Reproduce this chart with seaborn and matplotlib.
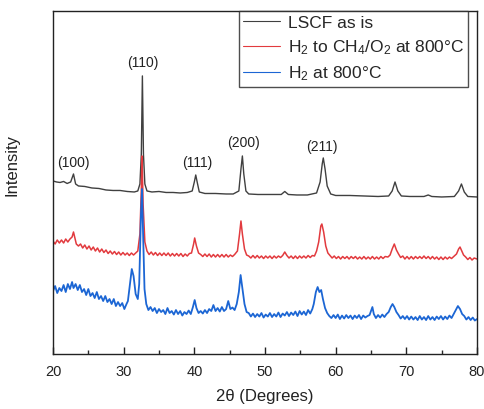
import matplotlib
matplotlib.use("Agg")
import matplotlib.pyplot as plt
import seaborn as sns
import pandas as pd

# XRD patterns of LSCF (2-theta in degrees, intensity in arbitrary units, already stacked)
two_theta_asis = [20.0, 20.5, 21.0, 21.5, 22.0, 22.5, 22.9, 23.2, 23.6, 24.5, 25.5, 26.5,
                  27.5, 28.5, 29.5, 30.5, 31.5, 32.0, 32.3, 32.5, 32.65, 32.8, 33.0, 33.3,
                  34.0, 35.0, 36.0, 37.0, 38.0, 39.0, 39.7, 40.0, 40.2, 40.4, 40.7, 41.5,
                  43.0, 44.5, 45.5, 46.3, 46.6, 46.8, 47.0, 47.3, 47.7, 49.0, 51.0, 52.3,
                  52.8, 53.3, 54.5, 56.0, 57.3, 57.8, 58.1, 58.25, 58.5, 58.8, 59.3, 60.0,
                  62.0, 64.0, 66.0, 67.5, 68.0, 68.4, 68.8, 69.3, 70.5, 72.5, 73.1, 73.6,
                  75.0, 76.8, 77.4, 77.8, 78.2, 78.7, 80.0]
intensity_asis = [173, 172, 171.5, 172.5, 170.5, 172, 180, 170, 168, 167.5, 166, 165.5,
                  164, 163.5, 163.5, 162.5, 162, 163, 170, 200, 278, 200, 170, 163,
                  162, 162.5, 161.5, 161.5, 161, 161.5, 163, 172, 179, 172, 162, 160.5,
                  160.5, 160, 160, 163, 185, 198, 180, 163, 160, 159.5, 159.5, 159.5,
                  162.5, 159.5, 159, 159, 161, 172, 190, 196, 185, 168, 160, 158.5,
                  158.5, 158, 157.5, 158, 163, 172, 163, 158, 157.5, 157.5, 159, 157.5,
                  157, 157.5, 163, 170, 162, 157.5, 157]

two_theta_mixed = [20.0, 20.3, 20.6, 20.9, 21.2, 21.5, 21.8, 22.1, 22.4, 22.7, 22.9, 23.1,
                   23.3, 23.6, 23.9, 24.2, 24.5, 24.8, 25.1, 25.4, 25.7, 26.0, 26.3, 26.6,
                   26.9, 27.2, 27.5, 27.8, 28.1, 28.4, 28.7, 29.0, 29.3, 29.6, 29.9, 30.2,
                   30.5, 30.8, 31.1, 31.4, 31.7, 32.0, 32.3, 32.5, 32.6, 32.75, 33.0, 33.3,
                   33.6, 33.9, 34.2, 34.5, 34.8, 35.1, 35.4, 35.7, 36.0, 36.3, 36.6, 36.9,
                   37.2, 37.5, 37.8, 38.1, 38.4, 38.7, 39.0, 39.3, 39.6, 39.9, 40.05, 40.3,
                   40.6, 40.9, 41.2, 41.5, 41.8, 42.1, 42.4, 42.7, 43.0, 43.3, 43.6, 43.9,
                   44.2, 44.5, 44.8, 45.1, 45.4, 45.7, 46.1, 46.4, 46.6, 46.8, 47.1, 47.4,
                   47.7, 48.0, 48.3, 48.6, 48.9, 49.2, 49.5, 49.8, 50.1, 50.4, 50.7, 51.0,
                   51.3, 51.6, 51.9, 52.2, 52.5, 52.8, 53.1, 53.4, 53.7, 54.0, 54.3, 54.6,
                   54.9, 55.2, 55.5, 55.8, 56.1, 56.4, 56.7, 57.0, 57.3, 57.6, 57.9, 58.05,
                   58.3, 58.6, 58.9, 59.2, 59.5, 59.8, 60.1, 60.4, 60.7, 61.0, 61.3, 61.6,
                   61.9, 62.2, 62.5, 62.8, 63.1, 63.4, 63.7, 64.0, 64.3, 64.6, 64.9, 65.2,
                   65.5, 65.8, 66.1, 66.4, 66.7, 67.0, 67.4, 67.7, 68.0, 68.3, 68.6, 68.9,
                   69.2, 69.5, 69.8, 70.1, 70.4, 70.7, 71.0, 71.3, 71.6, 71.9, 72.2, 72.5,
                   72.8, 73.1, 73.4, 73.7, 74.0, 74.3, 74.6, 74.9, 75.2, 75.5, 75.8, 76.1,
                   76.4, 76.8, 77.1, 77.4, 77.6, 77.85, 78.1, 78.4, 78.7, 79.0, 79.3, 79.6,
                   80.0]
intensity_mixed = [113, 110, 114, 111, 114, 111, 115, 112, 115, 117, 122, 116,
                   110, 108, 110, 106, 109, 105, 108, 104, 107, 103, 106, 102,
                   105, 101.5, 104, 100.5, 103, 100, 102.5, 99.5, 102, 99, 101.5, 99,
                   101, 98.5, 101, 99, 101, 103, 120, 165, 198, 150, 112, 103,
                   99.5, 102, 99, 101.5, 98.5, 101, 98.5, 101, 98.5, 101, 98, 100.5,
                   98, 100.5, 98, 100.5, 97.5, 100, 98, 100.5, 101, 110, 116, 108,
                   101, 99.5, 97.5, 100, 97.5, 100, 97, 99.5, 97, 99.5, 97, 99.5,
                   97, 99.5, 97, 99, 97.5, 99.5, 103, 120, 133, 120, 105, 99,
                   98, 96, 98.5, 96, 98.5, 96, 98, 95.5, 98, 96, 98, 95.5,
                   98, 96, 98, 96.5, 98.5, 102, 98.5, 96, 98, 95.5, 98, 95.5,
                   98, 96, 98, 96, 98.5, 96.5, 98.5, 98, 103, 112, 128, 130,
                   122, 108, 101, 98.5, 96, 98, 95.5, 97.5, 95, 97.5, 95.5, 97.5,
                   95, 97.5, 95.5, 97.5, 95, 97, 95, 97.5, 95, 97, 95, 97.5,
                   95, 97, 95, 97.5, 95.5, 97.5, 97, 99, 105, 110, 104, 100,
                   96.5, 98, 95, 97.5, 95, 97.5, 95, 97.5, 95.5, 97.5, 95.5, 98,
                   95.5, 97.5, 95, 97.5, 95, 97, 94.5, 97, 94.5, 97, 95, 97,
                   95.5, 98, 100, 105, 107, 103, 99, 97, 94.5, 96.5, 94, 96,
                   95]

two_theta_h2 = [20.0, 20.3, 20.6, 20.9, 21.2, 21.5, 21.8, 22.1, 22.4, 22.7, 22.9, 23.2,
                23.5, 23.8, 24.1, 24.4, 24.7, 25.0, 25.3, 25.6, 25.9, 26.2, 26.5, 26.8,
                27.1, 27.4, 27.7, 28.0, 28.3, 28.6, 28.9, 29.2, 29.5, 29.8, 30.1, 30.4,
                30.6, 30.9, 31.15, 31.4, 31.7, 32.0, 32.2, 32.45, 32.6, 32.75, 32.95, 33.2,
                33.5, 33.8, 34.1, 34.4, 34.7, 35.0, 35.3, 35.6, 35.9, 36.2, 36.5, 36.8,
                37.1, 37.4, 37.7, 38.0, 38.3, 38.6, 38.9, 39.2, 39.5, 39.8, 40.05, 40.3,
                40.6, 40.9, 41.2, 41.5, 41.8, 42.1, 42.4, 42.7, 43.0, 43.3, 43.6, 43.9,
                44.2, 44.5, 44.8, 45.1, 45.4, 45.7, 46.0, 46.3, 46.55, 46.8, 47.1, 47.4,
                47.7, 48.0, 48.3, 48.6, 48.9, 49.2, 49.5, 49.8, 50.1, 50.4, 50.7, 51.0,
                51.3, 51.6, 51.9, 52.2, 52.5, 52.8, 53.1, 53.4, 53.7, 54.0, 54.3, 54.6,
                54.9, 55.2, 55.5, 55.8, 56.1, 56.4, 56.7, 56.9, 57.2, 57.45, 57.7, 57.95,
                58.2, 58.5, 58.8, 59.1, 59.4, 59.7, 60.0, 60.3, 60.6, 60.9, 61.2, 61.5,
                61.8, 62.1, 62.4, 62.7, 63.0, 63.3, 63.6, 63.9, 64.2, 64.5, 64.8, 65.05,
                65.2, 65.4, 65.7, 66.0, 66.3, 66.6, 66.9, 67.2, 67.5, 67.8, 68.05, 68.3,
                68.6, 68.9, 69.2, 69.5, 69.8, 70.1, 70.4, 70.7, 71.0, 71.3, 71.6, 71.9,
                72.2, 72.5, 72.8, 73.1, 73.4, 73.7, 74.0, 74.3, 74.6, 74.9, 75.2, 75.5,
                75.8, 76.1, 76.4, 76.7, 77.0, 77.3, 77.6, 77.9, 78.2, 78.5, 78.8, 79.1,
                79.4, 79.7, 80.0]
intensity_h2 = [63, 68, 61, 66, 63, 69, 62, 70, 65, 72, 66, 70,
                64, 69, 62, 65, 59, 65, 58, 61, 56, 62, 55, 58,
                53, 58, 52, 55, 50, 55, 48, 52, 48, 51, 45, 50,
                53, 70, 85, 78, 60, 55, 70, 140, 165, 120, 65, 50,
                44, 47, 43, 46, 41, 45, 42, 44, 40, 46, 41, 43,
                39.5, 44, 40, 43, 38.5, 42, 40, 43.5, 40, 47, 54, 46,
                41, 43, 40.5, 44, 41, 45, 43, 49, 43, 46, 42.5, 47,
                43, 45, 53, 45, 46.5, 44, 50, 62, 79, 66, 50, 42,
                41, 37.5, 40.5, 37, 40, 37.5, 41, 36.5, 39.5, 37.5, 41, 37,
                40, 37.5, 41.5, 37, 40.5, 38.5, 42, 38, 41.5, 39, 42.5, 38,
                43, 39.5, 42.5, 39, 44, 40.5, 45, 50, 62, 67, 62, 64,
                55, 46, 41, 38, 36, 39, 36, 39.5, 35, 38.5, 35.5, 39,
                36, 38.5, 35, 38.5, 36, 39, 35, 38.5, 36.5, 38, 39, 44,
                47, 40, 36, 39, 36.5, 39.5, 37, 40, 42, 47, 50, 47,
                42, 39, 35.5, 38, 35, 38, 34.5, 37.5, 34.5, 37, 34, 38,
                34.5, 37, 34, 38, 34.5, 37, 34, 37.5, 35, 38, 34.5, 37.5,
                35, 38.5, 36, 40, 44, 48, 45, 40, 38, 34.5, 37, 34,
                36.5, 33.5, 35]

series_labels = ["LSCF as is", r"H$_2$ to CH$_4$/O$_2$ at 800°C", r"H$_2$ at 800°C"]
series_colors = ["#404040", "#e23a3e", "#1c66d4"]

# Miller indices of the perovskite reflections and where they are annotated
hkl_labels = ["(100)", "(110)", "(111)", "(200)", "(211)"]
hkl_two_theta = [22.9, 32.7, 40.4, 47.0, 58.0]
hkl_label_height = [192, 292, 192, 212, 208]

sns.set_theme(style="ticks")
plt.rcParams["font.family"] = ["Liberation Sans", "DejaVu Sans"]
plt.rcParams["mathtext.default"] = "regular"

frames = [
    pd.DataFrame({"two_theta": two_theta_asis, "intensity": intensity_asis, "sample": series_labels[0]}),
    pd.DataFrame({"two_theta": two_theta_mixed, "intensity": intensity_mixed, "sample": series_labels[1]}),
    pd.DataFrame({"two_theta": two_theta_h2, "intensity": intensity_h2, "sample": series_labels[2]}),
]

fig = plt.figure(figsize=(4.84, 4.10), dpi=100)
ax = fig.add_axes([0.1095, 0.134, 0.876, 0.837])

line_widths = [1.0, 1.1, 1.3]
for df, color, lw in zip(frames, series_colors, line_widths):
    sns.lineplot(data=df, x="two_theta", y="intensity", color=color, linewidth=lw,
                 label=df["sample"].iloc[0], estimator=None, ax=ax)

for text, xpos, ypos in zip(hkl_labels, hkl_two_theta, hkl_label_height):
    ax.text(xpos, ypos, text, ha="center", va="center", fontsize=10, color="#222222")

ax.set_xlim(20, 80)
ax.set_ylim(0, 343)
ax.set_xticks([20, 30, 40, 50, 60, 70, 80])
ax.set_xticks([25, 35, 45, 55, 65, 75], minor=True)
ax.set_yticks([])
ax.tick_params(axis="x", which="major", direction="in", length=5, width=1,
               labelsize=10.5, pad=7, colors="#222222")
ax.tick_params(axis="x", which="minor", direction="in", length=3, width=1, bottom=True)
for spine in ax.spines.values():
    spine.set_visible(True)
    spine.set_color("#222222")
    spine.set_linewidth(1.0)

ax.set_xlabel("2θ (Degrees)", fontsize=12, color="#222222", labelpad=7)
ax.set_ylabel("Intensity", fontsize=12, color="#222222")
ax.yaxis.set_label_coords(-0.08, 0.554)

leg = ax.legend(loc="upper right", bbox_to_anchor=(0.979, 1.0), borderaxespad=0,
                frameon=True, fancybox=False, fontsize=12.5, handlelength=2.1,
                handletextpad=0.45, borderpad=0.25, labelspacing=0.42)
leg.get_frame().set_edgecolor("#222222")
leg.get_frame().set_linewidth(1.0)
for h in leg.get_lines():
    h.set_linewidth(0.8)

fig.savefig("out.png", dpi=100)
